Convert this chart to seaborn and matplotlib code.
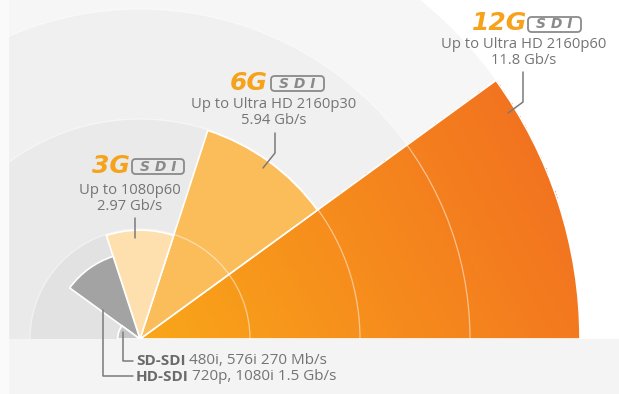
import numpy as np
import pandas as pd
import matplotlib
matplotlib.use("Agg")
import matplotlib.pyplot as plt
import seaborn as sns
from matplotlib.lines import Line2D
from matplotlib.patches import Rectangle, FancyBboxPatch
from matplotlib.colors import to_rgb, LinearSegmentedColormap

# ---------------- data ----------------
formats = ["12G-SDI", "6G-SDI", "3G-SDI", "HD-SDI", "SD-SDI"]
logo_main = ["12G", "6G", "3G"]
resolutions = ["Up to Ultra HD 2160p60", "Up to Ultra HD 2160p30", "Up to 1080p60",
               "720p, 1080i", "480i, 576i"]
bitrates = ["11.8 Gb/s", "5.94 Gb/s", "2.97 Gb/s", "1.5 Gb/s", "270 Mb/s"]
wedge_len = [11.8, 5.88, 2.92, 2.33, 0.6]      # radial length of each wedge
ring_levels = [2.95, 5.9, 8.85, 11.8]          # concentric background rings

palette = {"12G-SDI": "#f6901c", "6G-SDI": "#fbbd59", "3G-SDI": "#fee0ae",
           "HD-SDI": "#a3a3a3", "SD-SDI": "#c6c6c6"}
ring_colors = ["#e2e2e2", "#eaeaea", "#f0f0f0", "#f6f6f6"]

# ---------------- layout ----------------
W, H = 619, 394
OX, OY = 140, 339           # origin in pixels (from top-left)
R12 = 440.0                 # pixel radius of the outer ring
ppu = R12 / ring_levels[-1]
RLIM = 16.0
RAX = RLIM * ppu
OYB = H - OY                # origin height from bottom

sns.set_theme(style="white")
plt.rcParams["font.family"] = ["Open Sans", "DejaVu Sans"]

fig = plt.figure(figsize=(W / 100, H / 100), dpi=100, facecolor="#f4f4f4")
# the half-disc wedge bbox is squared by matplotlib: origin sits at 1/4 height
ax = fig.add_axes([(OX - RAX) / W, (OYB - 0.5 * RAX) / H, 2 * RAX / W, 2 * RAX / H],
                  projection="polar")
ax.set_frame_on(False)

# white field + background rings (largest first)
ax.bar(np.pi / 2, RLIM, width=np.pi, bottom=0, color="white", edgecolor="none",
       zorder=0.4)
for lvl, col in sorted(zip(ring_levels, ring_colors), reverse=True):
    ax.bar(np.pi / 2, lvl, width=np.pi, bottom=0, color=col, edgecolor="none",
           zorder=0.5)

n = len(formats)
step = np.pi / n
df = pd.DataFrame({"theta": [(i + 0.5) * step for i in range(n)],
                   "length": wedge_len, "format": formats})
n_before = len(ax.containers)
sns.barplot(data=df, x="theta", y="length", hue="format", hue_order=formats,
            palette=palette, native_scale=True, width=1, saturation=1,
            errorbar=None, legend=False, edgecolor="white", linewidth=1.2,
            ax=ax, zorder=1)
ax.set_xlabel("")
ax.set_ylabel("")

# gradient fill for the 12G wedge (linear gradient towards the upper right)
p12 = ax.containers[n_before][0]
th0, thw, rr = p12.get_x(), p12.get_width(), p12.get_height()
th_e = np.linspace(th0, th0 + thw, 91)
r_e = np.linspace(0, rr, 151)
TH, RR = np.meshgrid((th_e[:-1] + th_e[1:]) / 2, (r_e[:-1] + r_e[1:]) / 2)
phi = np.deg2rad(28)
tval = np.clip(RR * np.cos(TH - phi) / rr, 0, 1)
grad_cmap = LinearSegmentedColormap.from_list("g12", ["#f9a619", "#f2731f"])
mesh = ax.pcolormesh(th_e, r_e, tval, cmap=grad_cmap, vmin=0, vmax=1,
                     shading="flat", zorder=0.95, edgecolors="none")
p12.set_facecolor("none")

ax.set_thetamin(0)
ax.set_thetamax(180)
ax.set_rlim(0, RLIM)
ax.set_xticks([])
ax.set_rticks(ring_levels[:3])
ax.set_yticklabels([])
ax.xaxis.grid(False)
ax.yaxis.grid(True, color="white", alpha=0.5, linewidth=0.9)
ax.set_axisbelow(False)

# ---------------- annotations ----------------
def P(x, y):
    return (x / W, 1 - y / H)

TXT = "#747474"
LINE = "#7a7a7a"
ORANGE = "#f7a21b"
SDIG = "#8a8a8a"

# (right edge of main text, its y centre, box x0, box x1, box y0, box y1)
logos = [(527, 22.5, 528, 581, 17, 32),
         (268, 83, 271, 324, 76, 91),
         (130, 166, 132, 184, 159, 174)]
for main, (xr, yc, bx0, bx1, by0, by1) in zip(logo_main, logos):
    fig.text(*P(xr, yc), main, ha="right", va="center", fontsize=18,
             fontweight="bold", fontstyle="italic", color=ORANGE,
             family="DejaVu Sans")
    box = FancyBboxPatch((bx0 / W, 1 - by1 / H), (bx1 - bx0) / W, (by1 - by0) / H,
                         boxstyle="round,pad=0,rounding_size=0.006",
                         transform=fig.transFigure, fc="none", ec=SDIG, lw=1.3,
                         mutation_aspect=W / H)
    fig.add_artist(box)
    fig.text((bx0 + bx1) / 2 / W, 1 - (by0 + by1) / 2 / H, "S D I", ha="center",
             va="center", fontsize=10, fontweight="bold", fontstyle="italic",
             color=SDIG, family="DejaVu Sans")

label_pos = [(524, 45, 61), (274, 105, 121), (130, 190, 206)]
for i, (xc, y1, y2) in enumerate(label_pos):
    fig.text(*P(xc, y1), resolutions[i], ha="center", va="center",
             fontsize=10.6, color=TXT)
    fig.text(*P(xc, y2), bitrates[i], ha="center", va="center",
             fontsize=10.6, color=TXT)

leaders = [
    [(523, 72), (523, 102), (508, 113)],
    [(275, 133), (275, 153), (263, 168)],
    [(135, 218), (135, 238)],
    [(103, 310), (103, 376), (133, 376)],
    [(123, 332), (123, 361), (133, 361)],
]
for pts in leaders:
    xs = [p[0] / W for p in pts]
    ys = [1 - p[1] / H for p in pts]
    fig.add_artist(Line2D(xs, ys, color=LINE, lw=1.1, transform=fig.transFigure,
                          zorder=5))

fig.canvas.draw()
renderer = fig.canvas.get_renderer()
for i, yc in [(4, 361), (3, 377)]:
    tb = fig.text(*P(136, yc), formats[i], ha="left", va="center", fontsize=11,
                  fontweight="bold", color="#6a6a6a")
    bb = tb.get_window_extent(renderer)
    fig.text(bb.x1 / W + 3 / W, 1 - yc / H, f"{resolutions[i]} {bitrates[i]}",
             ha="left", va="center", fontsize=11, color=TXT)

fig.add_artist(Rectangle((0, 0), 8 / W, 1, transform=fig.transFigure,
                         color="#fafafa", zorder=10))

fig.savefig("out.png", dpi=100, facecolor=fig.get_facecolor())
